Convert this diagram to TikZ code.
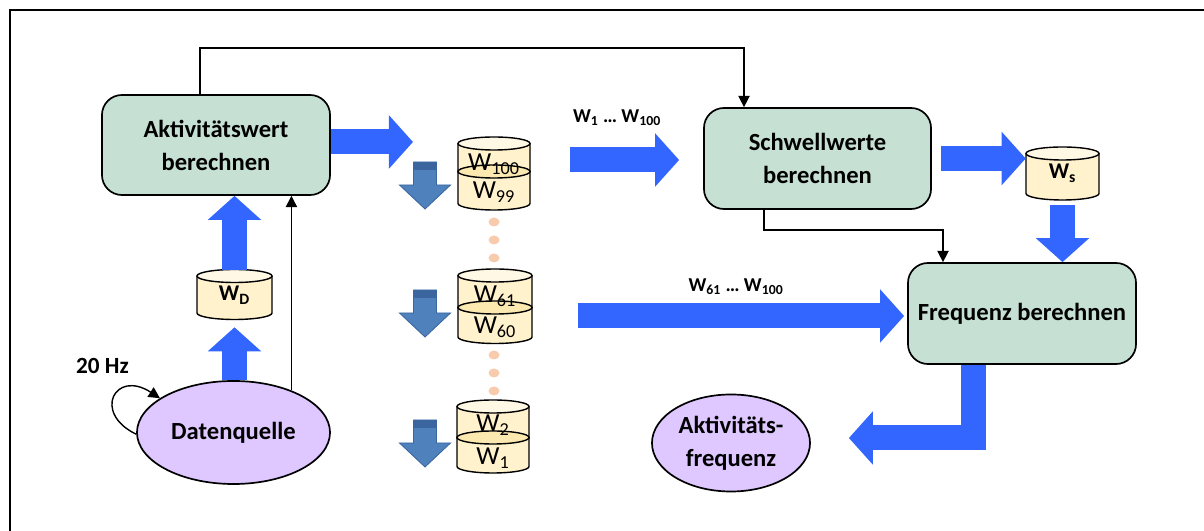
\documentclass[tikz,border=0pt]{standalone}
\usepackage{fontspec}
\setmainfont{Carlito}
\usetikzlibrary{arrows.meta, positioning, shapes.geometric}

\definecolor{boxgreen}{RGB}{198,224,212}
\definecolor{srclilac}{RGB}{222,200,255}
\definecolor{drumbody}{RGB}{255,242,204}
\definecolor{drumtop}{RGB}{255,248,229}
\definecolor{drummid}{RGB}{251,233,176}
\definecolor{flowblue}{RGB}{51,102,255}
\definecolor{pushblue}{RGB}{79,129,189}
\definecolor{pushdark}{RGB}{58,101,159}
\definecolor{dotpeach}{RGB}{248,203,173}

% drum: [top fill] x, top y, bottom y, x radius
\newcommand{\drum}[5][drumtop]{%
  \fill[drumbody] (#2-#5,#3) -- (#2-#5,#4) arc[start angle=180,end angle=360,x radius=#5,y radius=6.5] -- (#2+#5,#3) -- cycle;
  \draw[line width=1pt] (#2-#5,#3) -- (#2-#5,#4) arc[start angle=180,end angle=360,x radius=#5,y radius=6.5] -- (#2+#5,#3);
  \draw[line width=1pt,fill=#1] (#2,#3) ellipse[x radius=#5,y radius=6.5];
}

\tikzset{pushdown/.pic={
  \fill[pushblue,draw=pushdark,line width=0.6pt] (-11.5,0) -- (-11.5,-23) -- (-25.5,-23) -- (0,-47) -- (25.5,-23) -- (11.5,-23) -- (11.5,0) -- cycle;
  \fill[pushdark] (-11.5,0) rectangle (11.5,-8);
}}

\begin{document}
\begin{tikzpicture}[x=0.025cm,y=0.025cm,
  proc/.style={draw,line width=1.2pt,rounded corners=0.5cm,fill=boxgreen,minimum width=5.7cm,minimum height=2.5cm,align=center,font=\fontsize{17.5}{23.4}\selectfont\bfseries},
  src/.style={ellipse,draw,line width=1.2pt,fill=srclilac,inner sep=0pt,align=center,font=\fontsize{17.5}{23.4}\selectfont\bfseries},
  drumtxt/.style={inner sep=0pt,font=\fontsize{18.5}{20}\selectfont},
  smalldrum/.style={inner sep=0pt,font=\fontsize{16}{18}\selectfont\bfseries},
  lbl/.style={inner sep=0pt,font=\fontsize{14}{16}\selectfont\bfseries},
  flow/.style={flowblue,line width=0.625cm,line join=miter,-{Triangle[length=0.6cm,width=1.3cm]}},
  link/.style={line width=1pt,-{Triangle[length=8pt,width=8pt]}}]
\useasboundingbox (0,0) rectangle (1204,531);
\draw[line width=1.4pt] (10,0) -- (10,521) -- (1204,521);

\node[proc] (akt) at (216,386) {Aktivitätswert\\berechnen};
\node[proc,minimum width=5.675cm,minimum height=2.525cm] (schw) at (817.5,372.5) {Schwellwerte\\berechnen};
\node[proc,minimum height=2.525cm] (freq) at (1022,217.5) {Frequenz berechnen};
\node[src,minimum width=4.825cm,minimum height=2.575cm] (dq) at (233.5,98.5) {Datenquelle};
\node[src,minimum width=3.95cm,minimum height=2.425cm] (af) at (731,88) {Aktivitäts-\\frequenz};

\drum{234.5}{255}{218}{37.5}
\drum{1062.5}{377.5}{337.5}{36.5}
\drum{494}{387.5}{359.5}{36}
\drum[drummid]{494}{359.5}{327.5}{36}
\drum{495}{255.5}{223.5}{37}
\drum[drummid]{495}{223.5}{194}{37}
\drum{493}{124.5}{93.5}{36}
\drum[drummid]{493}{93.5}{64.5}{36}

\node[smalldrum,minimum width=1.875cm,minimum height=1.25cm] (wd) at (234.5,236) {W\textsubscript{D}};
\node[smalldrum,minimum width=1.825cm,minimum height=1.325cm] (ws) at (1062.5,357.5) {W\textsubscript{s}};
\node[drumtxt] (s100) at (494,367) {W\textsubscript{100}};
\node[drumtxt] (s99) at (494,339) {W\textsubscript{99}};
\node[drumtxt] (s61) at (495,235) {W\textsubscript{61}};
\node[drumtxt] (s60) at (495,204) {W\textsubscript{60}};
\node[drumtxt] (s2) at (493,106) {W\textsubscript{2}};
\node[drumtxt] (s1) at (493,73) {W\textsubscript{1}};

\foreach \y in {309,291,273,176,158,140}
  \fill[dotpeach] (494,\y) ellipse[x radius=5.5,y radius=4.5];
\foreach \y in {369,241,111}
  \pic at (425,\y) {pushdown};

\node[lbl] (lblA) at (617,413) {W\textsubscript{1} \dots{} W\textsubscript{100}};
\node[lbl] (lblB) at (736,244) {W\textsubscript{61} \dots{} W\textsubscript{100}};
\node[inner sep=0pt,font=\fontsize{16.5}{18}\selectfont\bfseries] (hz) at (102.5,165) {20 Hz};

\coordinate (aktout) at (413,389);
\coordinate (w1out) at (570,371);
\coordinate (w61out) at (578,215);
\coordinate (fcorner) at (973,93);
\coordinate (topl) at (200,483);
\coordinate (topr) at (744,483);
\coordinate (midl) at (764,301);
\coordinate (midr) at (943,301);

\draw[flow] (akt.east |- aktout) -- (aktout);
\draw[flow] (wd.north) -- (wd.north |- akt.south);
\draw[flow,shorten >=0.175cm] (dq.north -| wd.south) -- (wd.south);
\draw[flow,shorten >=0.6cm] (w1out) -- (w1out -| schw.west);
\draw[flow,shorten <=0.225cm] (schw.east) -- (schw.east -| ws.west);
\draw[flow,shorten <=0.125cm] (ws.south) -- (ws.south |- freq.north);
\draw[flow,shorten >=0.075cm] (w61out) -- (w61out -| freq.west);
\draw[flow,shorten >=0.95cm] (freq.south -| fcorner) -- (fcorner) -- (fcorner -| af.east);

\draw[link] (akt.north -| topl) -- (topl) -- (topr) -- (topr |- schw.north);
\draw[link] (dq.36) -- (dq.36 |- akt.south);
\draw[link] (schw.south -| midl) -- (midl) -- (midr) -- (midr |- freq.north);
\draw[link] (dq.181) .. controls (92,118) and (115,162) .. (dq.155);
\end{tikzpicture}
\end{document}
